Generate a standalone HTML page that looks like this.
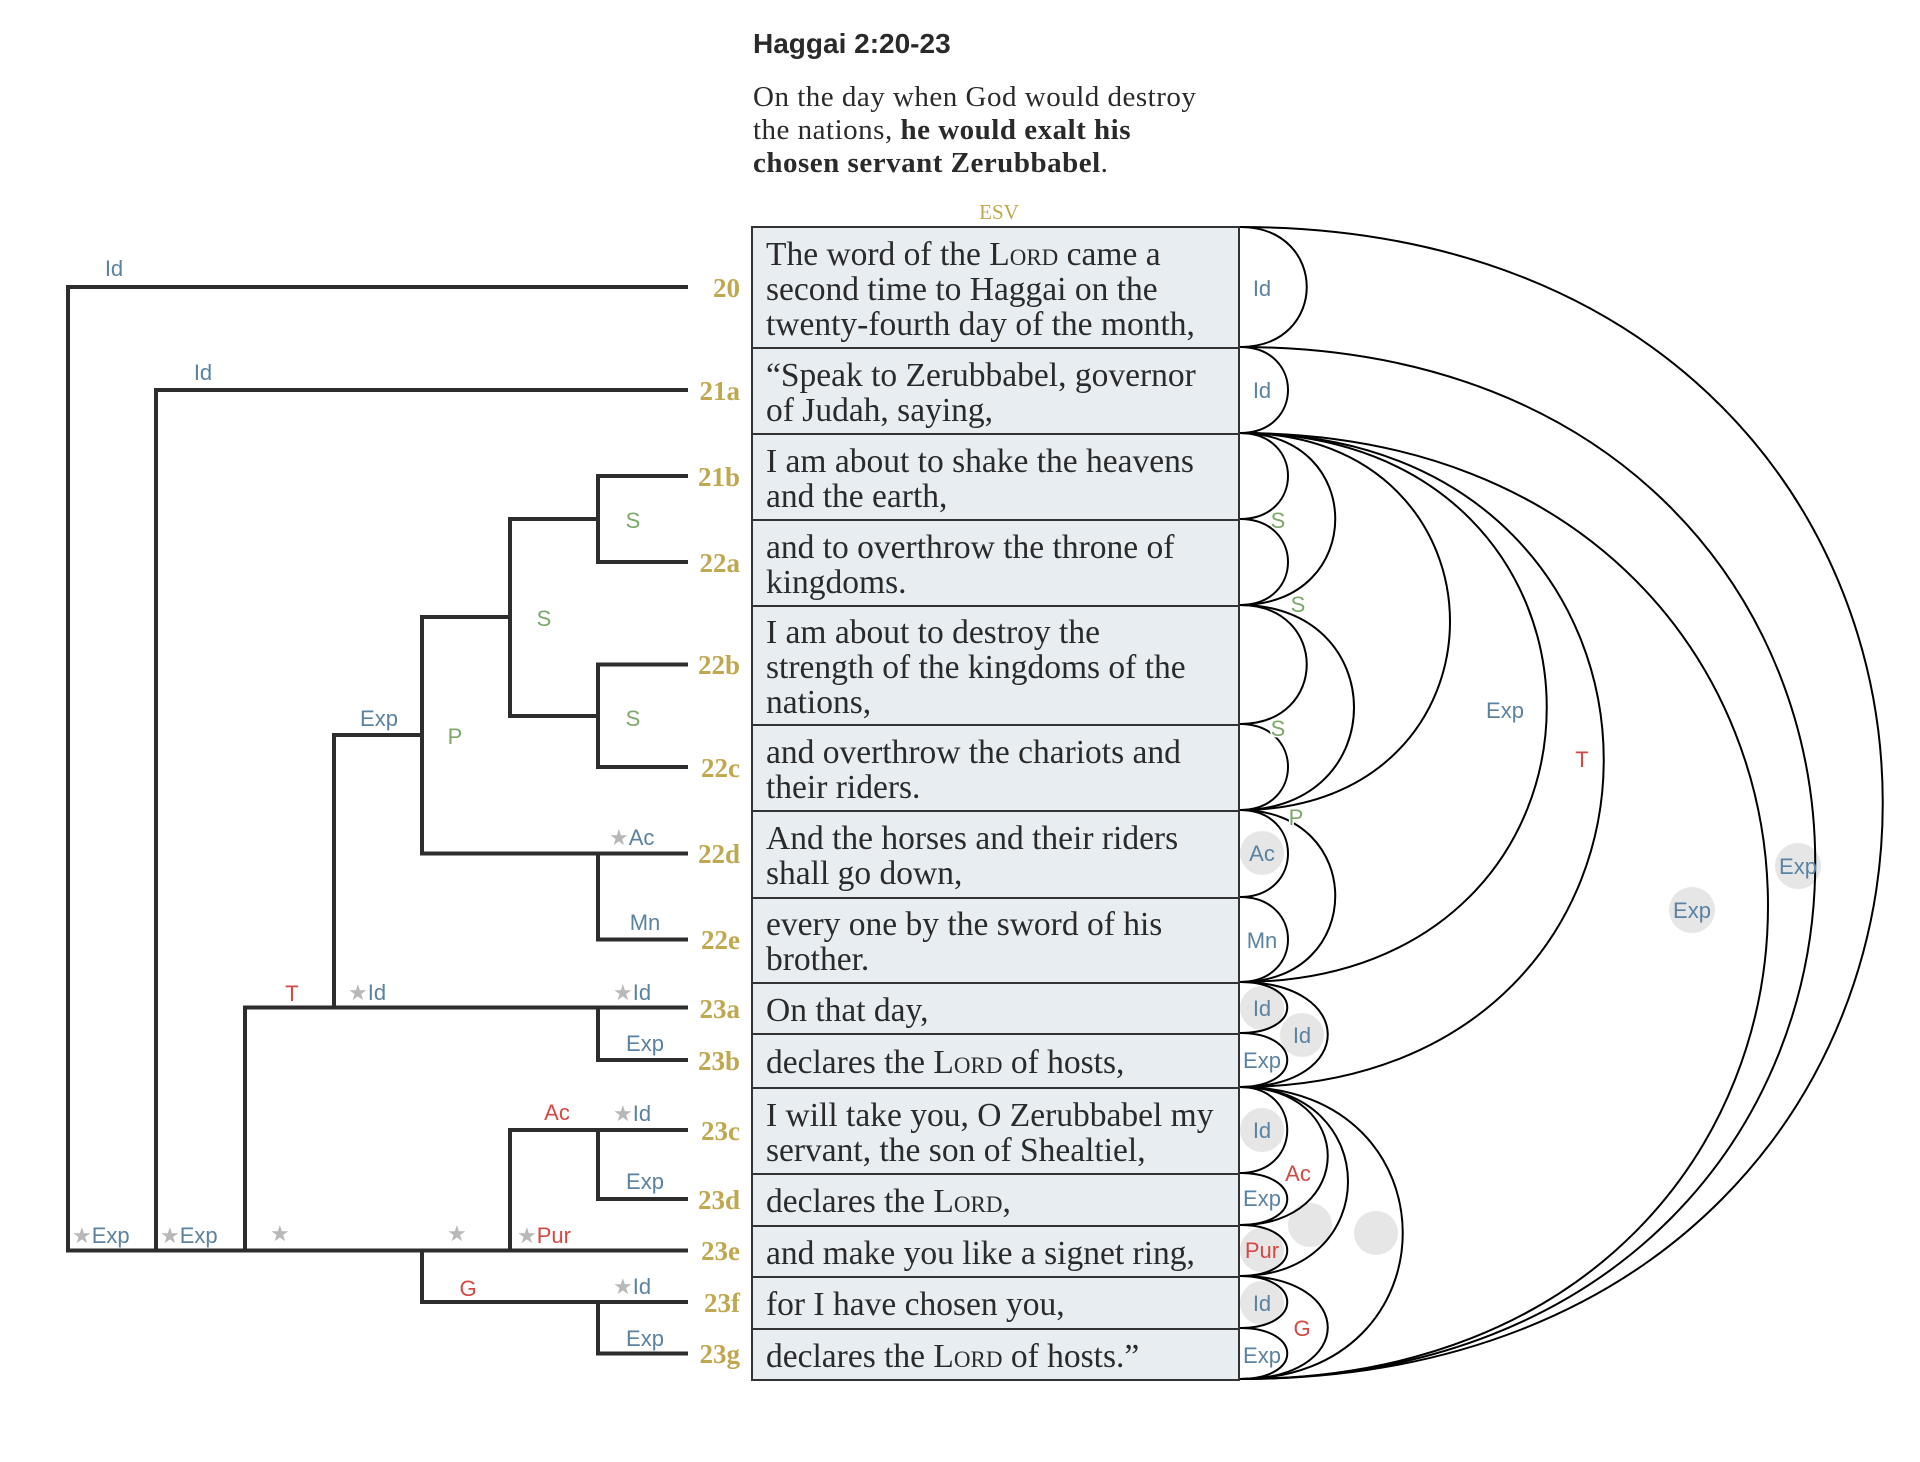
<!DOCTYPE html>
<html><head><meta charset="utf-8">
<style>
body{margin:0;width:1920px;height:1462px;background:#fff;position:relative;overflow:hidden;font-family:"Liberation Serif",serif}
.row{position:absolute;left:751px;width:489px;box-sizing:border-box;border:2px solid #333;background:#e8edf1;display:flex;flex-direction:column;justify-content:center;padding-left:13px;padding-top:3px;font-size:33.5px;line-height:35px;color:#2a2a2a;white-space:nowrap}
.sc{font-variant:small-caps}
#title{position:absolute;left:753px;top:28px;font:bold 28px "Liberation Sans",sans-serif;color:#2a2a2a}
#sum{position:absolute;left:753px;top:81px;font-size:29px;line-height:33px;color:#2a2a2a;letter-spacing:0.5px}
</style></head><body>
<div id="title">Haggai 2:20-23</div>
<div id="sum">On the day when God would destroy<br>the nations, <b>he would exalt his<br>chosen servant Zerubbabel</b>.</div>

<div class="row" style="top:226px;height:123px"><div>The word of the <span class="sc">Lord</span> came a<br>second time to Haggai on the<br>twenty-fourth day of the month,</div></div>
<div class="row" style="top:347px;height:88px"><div>“Speak to Zerubbabel, governor<br>of Judah, saying,</div></div>
<div class="row" style="top:433px;height:88px"><div>I am about to shake the heavens<br>and the earth,</div></div>
<div class="row" style="top:519px;height:88px"><div>and to overthrow the throne of<br>kingdoms.</div></div>
<div class="row" style="top:605px;height:121px"><div>I am about to destroy the<br>strength of the kingdoms of the<br>nations,</div></div>
<div class="row" style="top:724px;height:88px"><div>and overthrow the chariots and<br>their riders.</div></div>
<div class="row" style="top:810px;height:89px"><div>And the horses and their riders<br>shall go down,</div></div>
<div class="row" style="top:897px;height:87px"><div>every one by the sword of his<br>brother.</div></div>
<div class="row" style="top:982px;height:53px"><div>On that day,</div></div>
<div class="row" style="top:1033px;height:56px"><div>declares the <span class="sc">Lord</span> of hosts,</div></div>
<div class="row" style="top:1087px;height:88px"><div>I will take you, O Zerubbabel my<br>servant, the son of Shealtiel,</div></div>
<div class="row" style="top:1173px;height:54px"><div>declares the <span class="sc">Lord</span>,</div></div>
<div class="row" style="top:1225px;height:53px"><div>and make you like a signet ring,</div></div>
<div class="row" style="top:1276px;height:54px"><div>for I have chosen you,</div></div>
<div class="row" style="top:1328px;height:53px"><div>declares the <span class="sc">Lord</span> of hosts.”</div></div>

<svg width="1920" height="1462" style="position:absolute;left:0;top:0" xmlns="http://www.w3.org/2000/svg">
<text x="999" y="219" text-anchor="middle" font-family="Liberation Serif,serif" font-size="21" fill="#bfa84f">ESV</text>
<g stroke="#2d2d2d" stroke-width="4" fill="none" stroke-linecap="square">
<path d="M686 287H68V1250.5H686"/>
<path d="M686 390H156V1250.5"/>
<path d="M686 476H598V562H686"/>
<path d="M598 519H510V716H598"/>
<path d="M686 664.5H598V767H686"/>
<path d="M510 617H422V853.5H686"/>
<path d="M598 853.5V939.5H686"/>
<path d="M422 735H334V1007.5"/>
<path d="M686 1007.5H245V1250.5"/>
<path d="M598 1007.5V1060H686"/>
<path d="M686 1130H510V1250.5"/>
<path d="M598 1130V1199H686"/>
<path d="M422 1250.5V1302H686"/>
<path d="M598 1302V1353.5H686"/>
</g>
<g font-family="Liberation Serif,serif" font-size="27" fill="#bfa84f" font-weight="600" text-anchor="end">
<text x="740" y="297">20</text><text x="740" y="400">21a</text><text x="740" y="486">21b</text><text x="740" y="572">22a</text>
<text x="740" y="674">22b</text><text x="740" y="777">22c</text><text x="740" y="863">22d</text><text x="740" y="949">22e</text>
<text x="740" y="1018">23a</text><text x="740" y="1070">23b</text><text x="740" y="1140">23c</text><text x="740" y="1209">23d</text>
<text x="740" y="1260">23e</text><text x="740" y="1312">23f</text><text x="740" y="1363">23g</text>
</g>
<g font-family="Liberation Sans,sans-serif" font-size="22" text-anchor="middle">
<g fill="#5b82a0">
<text x="114" y="276">Id</text><text x="203" y="380">Id</text>
<text x="379" y="726">Exp</text><text x="645" y="930">Mn</text>
<text x="645" y="1051">Exp</text><text x="645" y="1189">Exp</text><text x="645" y="1346">Exp</text>
</g>
<g fill="#7ca86c"><text x="633" y="528">S</text><text x="544" y="626">S</text><text x="633" y="726">S</text><text x="455" y="744">P</text></g>
<g fill="#d24a43"><text x="292" y="1001">T</text><text x="557" y="1120">Ac</text><text x="468" y="1296">G</text></g>
<g text-anchor="start">
<text x="609" y="845"><tspan fill="#b8b8b8">★</tspan><tspan fill="#5b82a0">Ac</tspan></text>
<text x="348" y="1000"><tspan fill="#b8b8b8">★</tspan><tspan fill="#5b82a0">Id</tspan></text>
<text x="613" y="1000"><tspan fill="#b8b8b8">★</tspan><tspan fill="#5b82a0">Id</tspan></text>
<text x="613" y="1121"><tspan fill="#b8b8b8">★</tspan><tspan fill="#5b82a0">Id</tspan></text>
<text x="613" y="1294"><tspan fill="#b8b8b8">★</tspan><tspan fill="#5b82a0">Id</tspan></text>
<text x="72" y="1243"><tspan fill="#b8b8b8">★</tspan><tspan fill="#5b82a0">Exp</tspan></text>
<text x="160" y="1243"><tspan fill="#b8b8b8">★</tspan><tspan fill="#5b82a0">Exp</tspan></text>
<text x="270" y="1241" fill="#b8b8b8">★</text>
<text x="447" y="1241" fill="#b8b8b8">★</text>
<text x="517" y="1243"><tspan fill="#b8b8b8">★</tspan><tspan fill="#d24a43">Pur</tspan></text>
</g>
</g>
<g fill="#e6e6e6">
<circle cx="1262" cy="853" r="22"/><circle cx="1262" cy="1008" r="22"/><circle cx="1302" cy="1035" r="22"/>
<circle cx="1262" cy="1130" r="22"/><circle cx="1262" cy="1250" r="22"/><circle cx="1262" cy="1303" r="22"/>
<circle cx="1310" cy="1225" r="22"/><circle cx="1376" cy="1233" r="22"/>
<circle cx="1692" cy="910" r="23"/><circle cx="1798" cy="866" r="23"/>
</g>
<g stroke="#000" stroke-width="2" fill="none">
<path d="M1240 227C1329 227 1329 347 1240 347"/>
<path d="M1240 347C1304 347 1304 433 1240 433"/>
<path d="M1240 433C1304 433 1304 519 1240 519"/>
<path d="M1240 519C1304 519 1304 605 1240 605"/>
<path d="M1240 433C1367 433 1367 605 1240 605"/>
<path d="M1240 605C1329 605 1329 724 1240 724"/>
<path d="M1240 724C1304 724 1304 810 1240 810"/>
<path d="M1240 605C1392 605 1392 810 1240 810"/>
<path d="M1240 433C1520 433 1520 810 1240 810"/>
<path d="M1240 810C1304 810 1304 897 1240 897"/>
<path d="M1240 897C1304 897 1304 982 1240 982"/>
<path d="M1240 810C1367 810 1367 982 1240 982"/>
<path d="M1240 433C1649 433 1649 982 1240 982"/>
<path d="M1240 433C1725 433 1725 1087 1240 1087"/>
<path d="M1240 982C1303 982 1303 1033 1240 1033"/>
<path d="M1240 1033C1303 1033 1303 1087 1240 1087"/>
<path d="M1240 982C1357 982 1357 1087 1240 1087"/>
<path d="M1240 1087C1303 1087 1303 1173 1240 1173"/>
<path d="M1240 1173C1303 1173 1303 1225 1240 1225"/>
<path d="M1240 1087C1357 1087 1357 1225 1240 1225"/>
<path d="M1240 1225C1303 1225 1303 1276 1240 1276"/>
<path d="M1240 1087C1384 1087 1384 1276 1240 1276"/>
<path d="M1240 1276C1303 1276 1303 1328 1240 1328"/>
<path d="M1240 1328C1303 1328 1303 1379 1240 1379"/>
<path d="M1240 1276C1357 1276 1357 1379 1240 1379"/>
<path d="M1240 1087C1457 1087 1457 1379 1240 1379"/>
<path d="M1240 433C1944 433 1944 1379 1240 1379"/>
<path d="M1240 347C2007 347 2007 1379 1240 1379"/>
<path d="M1240 227C2097 227 2097 1379 1240 1379"/>
</g>
<g font-family="Liberation Sans,sans-serif" font-size="22" text-anchor="middle">
<g fill="#5b82a0">
<text x="1262" y="296">Id</text><text x="1262" y="398">Id</text>
<text x="1262" y="861">Ac</text><text x="1262" y="948">Mn</text>
<text x="1262" y="1016">Id</text><text x="1302" y="1043">Id</text><text x="1262" y="1068">Exp</text>
<text x="1262" y="1138">Id</text><text x="1262" y="1206">Exp</text>
<text x="1262" y="1311">Id</text><text x="1262" y="1363">Exp</text>
<text x="1505" y="718">Exp</text>
<text x="1692" y="918">Exp</text><text x="1798" y="874">Exp</text>
</g>
<g fill="#7ca86c" stroke="#fff" stroke-width="3" paint-order="stroke">
<text x="1278" y="528">S</text><text x="1298" y="612">S</text><text x="1278" y="736">S</text><text x="1296" y="825">P</text>
</g>
<g fill="#d24a43">
<text x="1582" y="767">T</text><text x="1298" y="1181">Ac</text><text x="1262" y="1258">Pur</text><text x="1302" y="1336">G</text>
</g>
</g>
</svg>
</body></html>
